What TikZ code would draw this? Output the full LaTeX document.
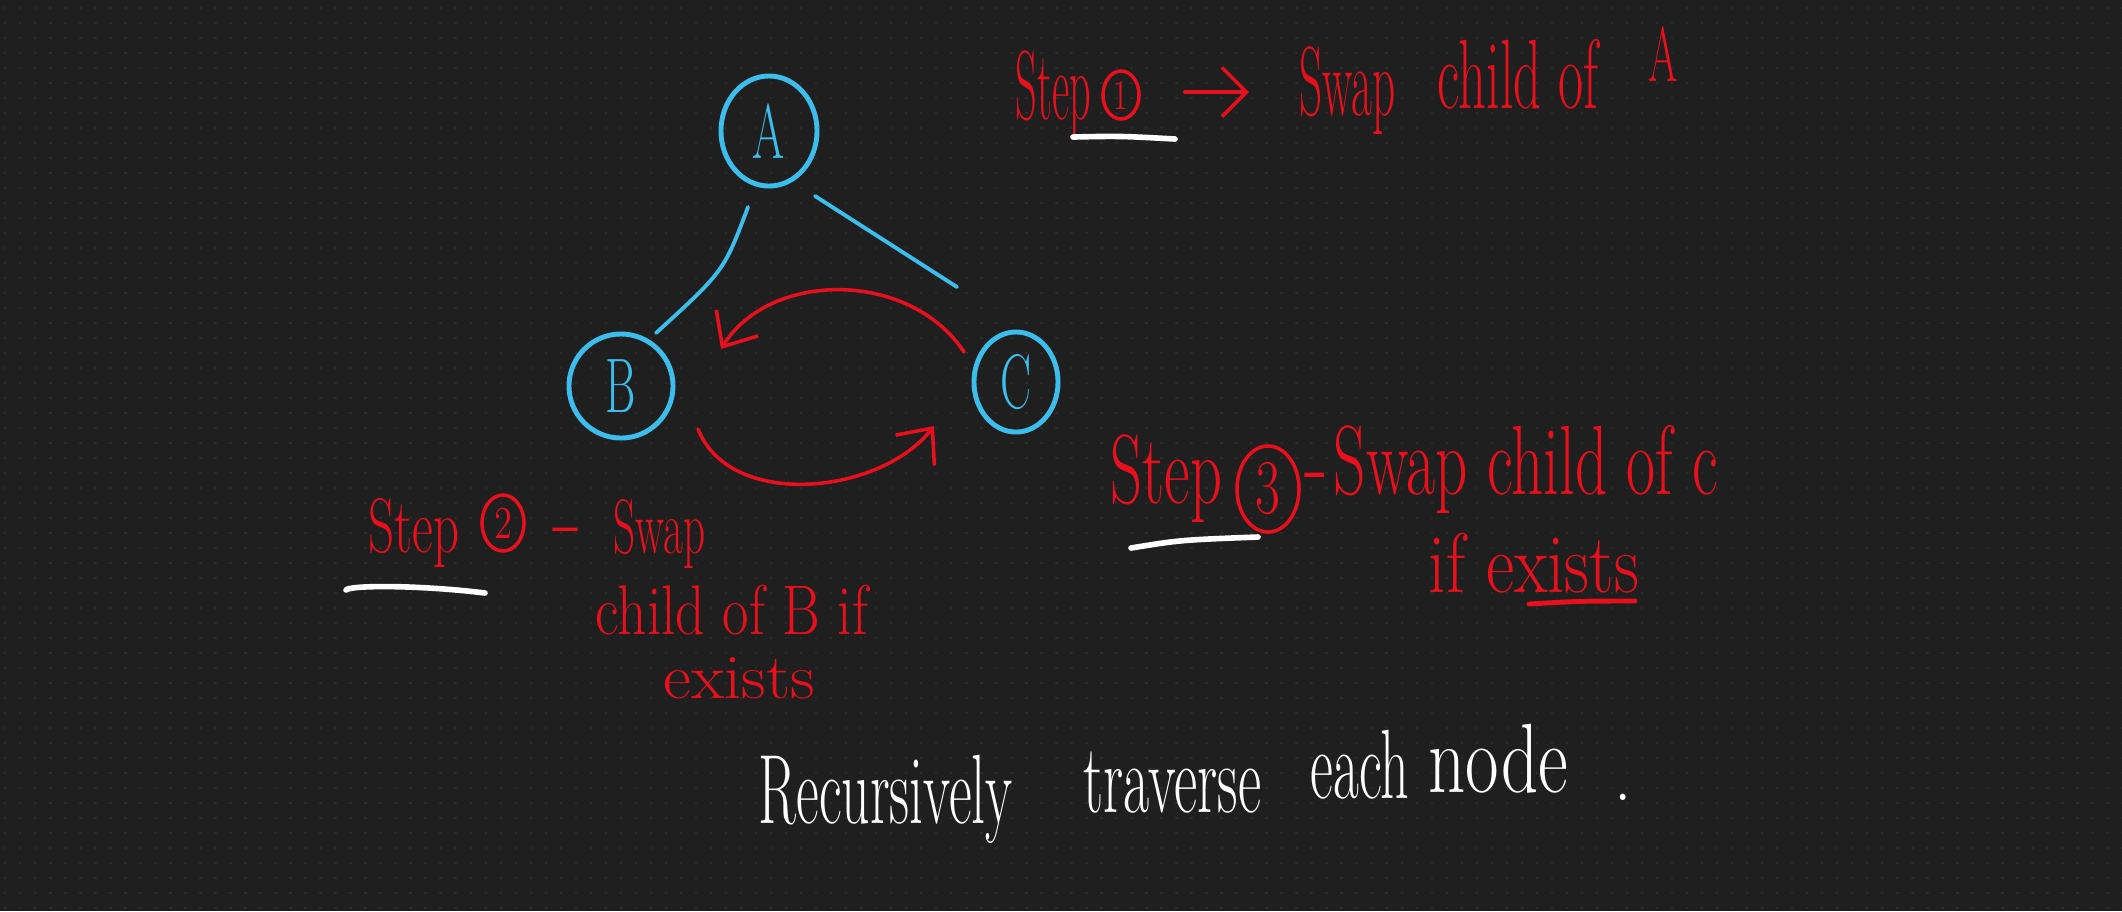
\documentclass[tikz,border=0pt]{standalone}
\usetikzlibrary{shapes.geometric,arrows.meta,calc}
\definecolor{bg}{HTML}{1F1F1F}
\definecolor{dotc}{HTML}{2A2A2A}
\definecolor{cyanb}{HTML}{3DBDEB}
\definecolor{redh}{HTML}{E8101C}
\newcommand\hand[3]{\scalebox{#2}[1]{\fontsize{#1}{#1}\selectfont #3}}
\begin{document}
\begin{tikzpicture}[x=0.01cm,y=-0.01cm,
  treenode/.style={ellipse, draw=cyanb, line width=1.4pt, text=cyanb, inner sep=0pt},
  numcirc/.style={ellipse, draw=redh, line width=1pt, text=redh, inner sep=0pt},
  redtxt/.style={text=redh, inner sep=0pt, anchor=base west},
  whitetxt/.style={text=white, inner sep=0pt, anchor=base west},
  edge/.style={draw=cyanb, line width=1.1pt, line cap=round},
  swaparrow/.style={draw=redh, line width=1pt, line cap=round, -{Straight Barb[length=8pt,width=14pt]}},
  uline/.style={draw=white, line width=1.6pt, line cap=round},
  rline/.style={draw=redh, line width=1.4pt, line cap=round},
  dotrow/.style={draw=dotc, line width=0.7pt, dash pattern=on 0.7pt off 3.57pt}]
\fill[bg] (0,0) rectangle (2122,911);
\useasboundingbox (0,0) rectangle (2122,911);
\foreach \yy in {8,23,...,911} {\draw[dotrow] (4,\yy) -- (2122,\yy);}
% tree
\node[treenode, minimum width=0.96cm, minimum height=1.1cm] (A) at (769,131) {\hand{22}{0.6}{A}};
\node[treenode, minimum width=1.04cm, minimum height=1.04cm] (B) at (621,386) {\hand{22}{0.6}{B}};
\node[treenode, minimum width=0.84cm, minimum height=1.0cm] (C) at (1016,382) {\hand{22}{0.6}{C}};
\draw[edge] ($(A)+(-21,76)$) .. controls ($(A)+(-45,140)$) .. ($(B)+(35,-53)$);
\draw[edge] ($(A)+(46,65)$) -- ($(C)+(-59,-95)$);
% swap arrows
\draw[swaparrow] ($(C)+(-52,-30)$) .. controls (910,270) and (770,270) .. ($(B)+(100,-37)$);
\draw[swaparrow] ($(B)+(77,43)$) .. controls (730,510) and (880,495) .. ($(C)+(-82,44)$);
% step 1
\node[redtxt] (s1) at (1015,119) {\hand{28}{0.43}{Step}};
\node[numcirc, minimum width=0.36cm, minimum height=0.48cm] (c1) at (1121,95) {\hand{12}{0.7}{1}};
\node[redtxt] (sw1) at (1299,115) {\hand{28}{0.46}{Swap}};
\node[redtxt] (ch1) at (1437,108) {\hand{28}{0.555}{child of}};
\node[redtxt] (a1) at (1648,81) {\hand{22}{0.55}{A}};
\draw[draw=redh, line width=1pt, line cap=round, -{Straight Barb[length=7pt,width=14pt]}] (c1.east) ++(0,-3) coordinate (ar1s) -- (ar1s -| sw1.west) [shorten <=0.44cm, shorten >=0.5cm];
\draw[uline] (1073,137) .. controls (1120,136) .. (1175,139);
% step 2
\node[redtxt] (s2) at (368,552) {\hand{22}{0.66}{Step}};
\node[numcirc, minimum width=0.42cm, minimum height=0.56cm] (c2) at (503,523) {\hand{13}{0.8}{2}};
\node[redtxt] (d2) at (552,546) {\hand{22}{1.3}{-}};
\node[redtxt] (sw2) at (613,553) {\hand{22}{0.56}{Swap}};
\node[redtxt] (ch2) at (595,634) {\hand{20}{0.82}{child of B if}};
\node[redtxt] (ex2) at (663,698) {\hand{18}{1.08}{exists}};
\draw[uline] (346,590) .. controls (350,585) and (420,585) .. (485,593);
% step 3
\node[redtxt] (s3) at (1110,503) {\hand{28}{0.635}{Step}};
\node[numcirc, minimum width=0.62cm, minimum height=0.86cm] (c3) at (1268,489) {\hand{22}{0.7}{3}};
\node[redtxt] (d3) at (1304,496) {\hand{28}{0.8}{-}};
\node[redtxt] (sw3) at (1333,494) {\hand{28}{0.643}{Swap child of c}};
\node[redtxt] (ex3) at (1428,592) {\hand{24}{0.82}{if exists}};
\draw[uline] (1131,548) .. controls (1180,540) .. (1258,537);
\draw[rline] (1529,604) .. controls (1580,601) .. (1635,601);
% bottom
\node[whitetxt] (r1) at (758,823) {\hand{28}{0.565}{Recursively}};
\node[whitetxt] (r2) at (1083,812) {\hand{28}{0.577}{traverse}};
\node[whitetxt] (r3) at (1310,798) {\hand{28}{0.57}{each}};
\node[whitetxt] (r4) at (1428,792) {\hand{28}{0.74}{node}};
\node[whitetxt] (r5) at (1614,800) {\hand{22}{0.9}{.}};
\end{tikzpicture}
\end{document}
